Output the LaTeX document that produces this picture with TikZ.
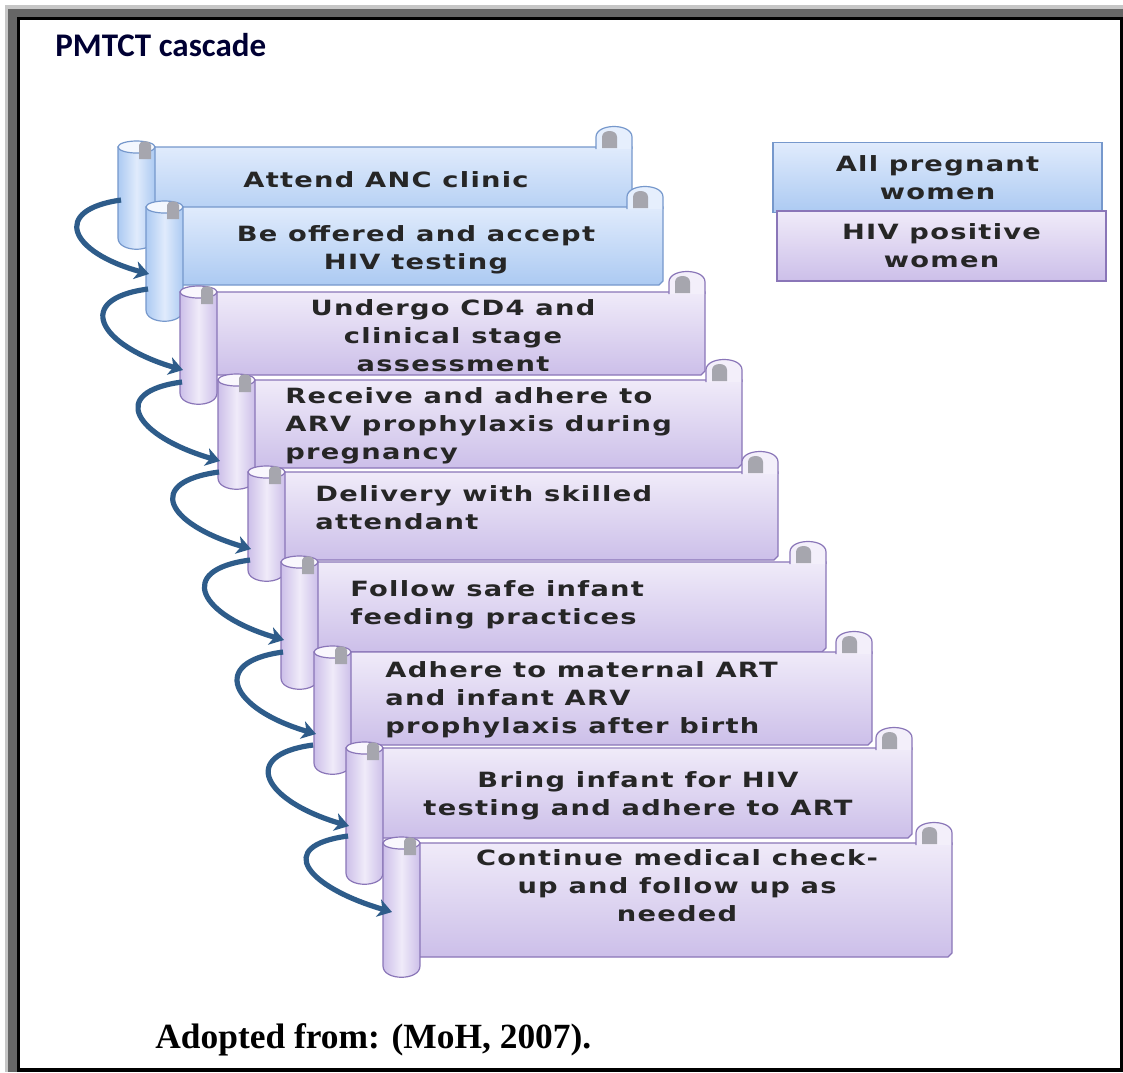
\documentclass[tikz,border=0pt]{standalone}
\usepackage{fontspec}
\newfontfamily\scrollfont[FakeStretch=1.3,LetterSpace=6]{DejaVu Sans Bold}
\newfontfamily\titlefont{Carlito}
\newfontfamily\notefont{Liberation Serif}
\usetikzlibrary{arrows.meta}
\definecolor{anctop}{RGB}{224,235,252}
\definecolor{ancbot}{RGB}{172,202,242}
\definecolor{ancedge}{RGB}{118,152,204}
\definecolor{hivtop}{RGB}{240,235,249}
\definecolor{hivbot}{RGB}{204,191,233}
\definecolor{hivedge}{RGB}{138,118,184}
\definecolor{curlgray}{RGB}{166,166,174}
\definecolor{arrowblue}{RGB}{46,92,138}
% scroll: left x, top y, right x, bottom y, roll bottom y, colour
\newcommand{\pmscroll}[6]{%
  \draw[draw=#6edge, line width=0.6pt, top color=#6top, bottom color=#6bot]
    ({#1+18},{#2}) -- ({#3},{#2}) -- ({#3},{#4-4}) -- ({#3-4},{#4}) -- ({#1+18},{#4}) -- cycle;
  \draw[draw=#6edge, line width=0.6pt, fill=#6top!80!white] ({#3-36},{#2+2}) -- ({#3-36},{#2-10})
    .. controls ({#3-36},{#2-24}) and ({#3},{#2-24}) .. ({#3},{#2-10}) -- ({#3},{#2+2});
  \fill[curlgray] ({#3-30},{#2+1}) -- ({#3-30},{#2-10})
    .. controls ({#3-30},{#2-18}) and ({#3-15},{#2-18}) .. ({#3-15},{#2-10}) -- ({#3-15},{#2+1}) -- cycle;
  \draw[draw=#6edge, line width=0.6pt, left color=#6bot, right color=#6bot, middle color=#6top]
    ({#1},{#2}) -- ({#1},{#5-12}) .. controls ({#1},{#5+3}) and ({#1+37},{#5+3}) .. ({#1+37},{#5-12})
    -- ({#1+37},{#2}) -- cycle;
  \draw[draw=#6edge, line width=0.6pt, fill=white!60!#6top] ({#1+18.5},{#2}) ellipse [x radius=18.5, y radius=6];
  \fill[curlgray] ({#1+21},{#2+12}) -- ({#1+21},{#2-2})
    .. controls ({#1+21},{#2-7}) and ({#1+33},{#2-7}) .. ({#1+33},{#2-2}) -- ({#1+33},{#2+12}) -- cycle;
}
\begin{document}
\begin{tikzpicture}[x=0.5pt,y=-0.5pt,
  scrolltxt/.style={font=\scrollfont\fontsize{10.5}{14}\selectfont, text=black!85, inner sep=0pt},
  legendbox/.style={draw=#1edge, line width=0.6pt, top color=#1top, bottom color=#1bot,
    minimum width=164.5pt, minimum height=35pt, align=center,
    font=\scrollfont\fontsize{10.5}{14}\selectfont, text=black!85},
  cascade/.style={draw=arrowblue, line width=2.6pt, -{Stealth[length=7pt,width=9pt,inset=2pt]}}]
\useasboundingbox (0,0) rectangle (1123,1072);
% frame
\fill[gray!45] (5,5) rectangle (1123,1072);
\fill[black!60] (8,9) rectangle (1123,1072);
\fill[black] (17,17) rectangle (1123,1072);
\fill[white] (20,20) rectangle (1120,1068);
\node[anchor=west, inner sep=0pt, font=\titlefont\bfseries\fontsize{16.5}{20}\selectfont, text=black!80!blue] (title) at (55,45) {PMTCT cascade};

% legend
\node[legendbox=anc] (allpw) at (937.5,177.5) {All pregnant\\women};
\node[legendbox=hiv] (hivpw) at (941.5,246) {HIV positive\\women};

% the cascade
\pmscroll{118}{147}{632}{225}{250}{anc}
\node[scrolltxt, align=center] (t1) at (386,180) {Attend ANC clinic};
\pmscroll{146}{207}{663}{285}{322}{anc}
\node[scrolltxt, align=center] (t2) at (416,250) {Be offered and accept\\HIV testing};
\pmscroll{180}{292}{705}{375}{405}{hiv}
\node[scrolltxt, align=center] (t3) at (453,336) {Undergo CD4 and\\clinical stage\\assessment};
\pmscroll{218}{380}{742}{468}{490}{hiv}
\node[scrolltxt, align=left, anchor=west] (t4) at (285,426) {Receive and adhere to\\ARV prophylaxis during\\pregnancy};
\pmscroll{248}{472}{778}{560}{582}{hiv}
\node[scrolltxt, align=left, anchor=west] (t5) at (315,508) {Delivery with skilled\\attendant};
\pmscroll{281}{562}{826}{652}{690}{hiv}
\node[scrolltxt, align=left, anchor=west] (t6) at (350,605) {Follow safe infant\\feeding practices};
\pmscroll{314}{652}{872}{745}{775}{hiv}
\node[scrolltxt, align=left, anchor=west] (t7) at (385,700) {Adhere to maternal ART\\and infant ARV\\prophylaxis after birth};
\pmscroll{346}{748}{912}{838}{885}{hiv}
\node[scrolltxt, align=center] (t8) at (638,796) {Bring infant for HIV\\testing and adhere to ART};
\pmscroll{383}{843}{952}{957}{978}{hiv}
\node[scrolltxt, align=center] (t9) at (677,886) {Continue medical check-\\up and follow up as\\needed};

% arrows between the rolls
\coordinate (s1out) at (121,200);
\coordinate (s2in) at (149,274);  \coordinate (s2out) at (148,289);
\coordinate (s3in) at (183,370);  \coordinate (s3out) at (182,382);
\coordinate (s4in) at (220,461);  \coordinate (s4out) at (219,472);
\coordinate (s5in) at (251,549);  \coordinate (s5out) at (250,560);
\coordinate (s6in) at (284,640);  \coordinate (s6out) at (283,652);
\coordinate (s7in) at (316,734);  \coordinate (s7out) at (313,745);
\coordinate (s8in) at (349,826);  \coordinate (s8out) at (348,836);
\coordinate (s9in) at (392,912);
\draw[cascade] (s1out) .. controls +(-70,10) and +(-80,-22) .. (s2in);
\draw[cascade] (s2out) .. controls +(-75,10) and +(-85,-25) .. (s3in);
\draw[cascade] (s3out) .. controls +(-75,10) and +(-85,-25) .. (s4in);
\draw[cascade] (s4out) .. controls +(-75,10) and +(-85,-25) .. (s5in);
\draw[cascade] (s5out) .. controls +(-75,10) and +(-85,-25) .. (s6in);
\draw[cascade] (s6out) .. controls +(-75,10) and +(-85,-25) .. (s7in);
\draw[cascade] (s7out) .. controls +(-75,10) and +(-85,-25) .. (s8in);
\draw[cascade] (s8out) .. controls +(-75,10) and +(-85,-25) .. (s9in);

\node[anchor=west, inner sep=0pt, font=\notefont\bfseries\fontsize{17.7}{21}\selectfont] (source) at (155,1040) {Adopted from: (MoH, 2007).};
\end{tikzpicture}
\end{document}
